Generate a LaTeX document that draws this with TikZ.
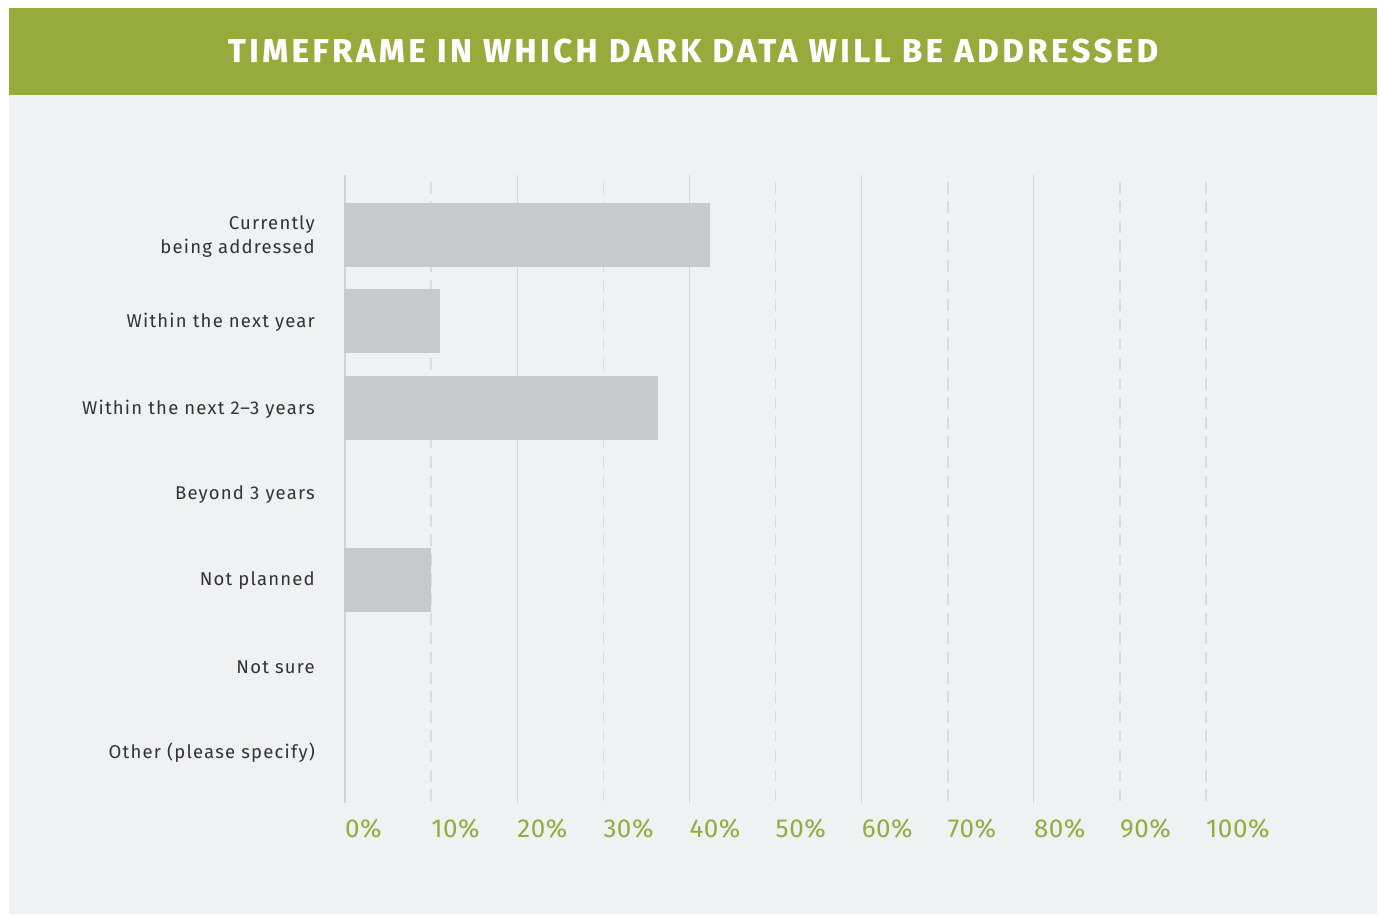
\documentclass[tikz,border=0pt]{standalone}
\usepackage{fontspec}
\setmainfont{Fira Sans}
\newfontfamily\titlefont[LetterSpace=10.5,FakeBold=0.6]{Fira Sans Bold}
\newfontfamily\catfont[LetterSpace=6.5]{Fira Sans}
\newfontfamily\axfont[LetterSpace=2]{Fira Sans}
\definecolor{hdr}{HTML}{97AB3C}
\definecolor{panel}{HTML}{F0F1F3}
\definecolor{barc}{HTML}{C8C9CB}
\definecolor{gridsolid}{HTML}{D2D3D5}
\definecolor{griddash}{HTML}{DADBDD}
\definecolor{labc}{HTML}{333333}
\definecolor{axc}{HTML}{97AB3C}
\tikzset{
  titletext/.style={text=white, font=\titlefont\fontsize{33}{38}\selectfont, anchor=base, inner sep=0},
  cat/.style={text=labc, font=\catfont\fontsize{18.5}{24}\selectfont, anchor=east, align=right, inner sep=0},
  axlab/.style={text=axc, font=\axfont\fontsize{26}{30}\selectfont, anchor=base west, inner sep=0},
  gsolid/.style={draw=gridsolid, line width=1.3pt},
  gdash/.style={draw=griddash, line width=1.6pt, dash pattern=on 12pt off 7.6pt, dash phase=13pt},
  barbox/.style={fill=barc}
}
\begin{document}
\begin{tikzpicture}[x=1pt,y=-1pt]
\useasboundingbox (0,0) rectangle (1380,915);
\fill[panel] (9,95) rectangle (1377,914);
\fill[hdr] (9,8) rectangle (1377,95);
\node[titletext] (title) at (693,62) {TIMEFRAME IN WHICH DARK DATA WILL BE ADDRESSED};
% grid
\foreach \i in {0,2,4,6,8} {
  \draw[gsolid] ({345+86.1*\i},175) -- ({345+86.1*\i},803);
}
\foreach \i in {1,3,5,7,9,10} {
  \draw[gdash] ({345+86.1*\i},175) -- ({345+86.1*\i},803);
}
% bars
\fill[barbox] (344,203) rectangle (710,267);
\fill[barbox] (344,289) rectangle (440,353);
\fill[barbox] (344,376) rectangle (658,440);
\fill[barbox] (344,548) rectangle (431,612);
% category labels
\node[cat] (c1) at (315,237) {Currently\\being addressed};
\node[cat] (c2) at (315,322) {Within the next year};
\node[cat] (c3) at (315,409) {Within the next 2–3 years};
\node[cat] (c4) at (315,495) {Beyond 3 years};
\node[cat] (c5) at (315,581) {Not planned};
\node[cat] (c6) at (315,667) {Not sure};
\node[cat] (c7) at (315,753) {Other (please specify)};
% axis labels
\foreach \i/\t in {0/0\%,1/10\%,2/20\%,3/30\%,4/40\%,5/50\%,6/60\%,7/70\%,8/80\%,9/90\%,10/100\%} {
  \node[axlab] (ax\i) at ({345+86.1*\i},837) {\t};
}
\end{tikzpicture}
\end{document}
